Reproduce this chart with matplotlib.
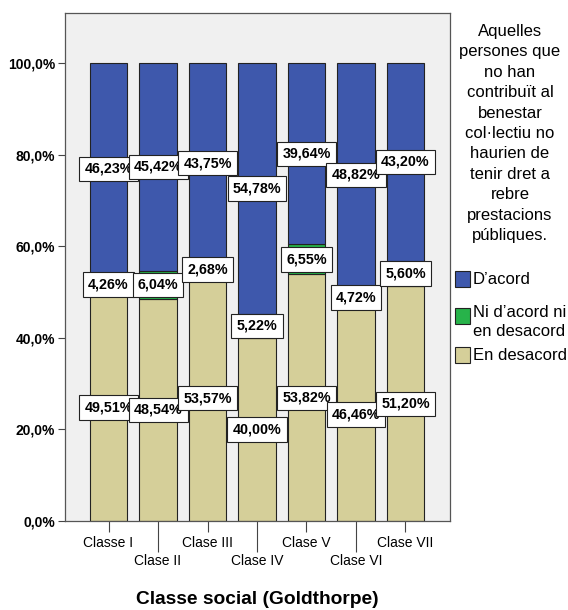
import numpy as np
import matplotlib.pyplot as plt
from matplotlib.patches import Rectangle

classes = ["Classe I", "Clase II", "Clase III", "Clase IV", "Clase V", "Clase VI", "Clase VII"]
en_desacord = [49.51, 48.54, 53.57, 40.00, 53.82, 46.46, 51.20]
ni_acord = [4.26, 6.04, 2.68, 5.22, 6.55, 4.72, 5.60]
d_acord = [46.23, 45.42, 43.75, 54.78, 39.64, 48.82, 43.20]
y_ticks = [0, 20, 40, 60, 80, 100]
legend_names = ["D\u2019acord", "Ni d\u2019acord ni\nen desacord", "En desacord"]
legend_title = ("Aquelles\npersones que\nno han\ncontribu\u00eft al\nbenestar\ncol\u00b7lectiu no\n"
                "haurien de\ntenir dret a\nrebre\nprestacions\np\u00fabliques.")

col_blue = "#3E58AC"
col_green = "#27B34A"
col_tan = "#D5CF99"
edge = "#222222"

plt.rcParams['font.family'] = ['Liberation Sans', 'DejaVu Sans']

W, H = 568, 610
fig = plt.figure(figsize=(W / 100, H / 100), dpi=100)
ax = fig.add_axes([65 / W, 1 - 521 / H, 385 / W, 508 / H])
ax.set_facecolor("#F0F0F0")

x = np.arange(len(classes))
w = 0.75
bottom = np.zeros(len(classes))
series = [(en_desacord, col_tan), (ni_acord, col_green), (d_acord, col_blue)]
for vals, col in series:
    vals = np.array(vals)
    ax.bar(x, vals, w, bottom=bottom, color=col, edgecolor=edge, linewidth=0.8)
    for xi, b, v in zip(x, bottom, vals):
        ax.text(xi, b + v / 2, f"{v:.2f}%".replace(".", ","), ha="center", va="center",
                fontsize=10.3, fontweight="bold",
                bbox=dict(boxstyle="square,pad=0.36", fc="white", ec=edge, lw=0.8))
    bottom = bottom + vals

ax.set_xlim(-0.88, 6.9)
ax.set_ylim(0, 110.9)
ax.set_yticks(y_ticks)
ax.set_yticklabels([f"{t:.1f}%".replace(".", ",") for t in y_ticks], fontsize=10, fontweight="bold")
ax.tick_params(axis="y", length=5, width=0.8, pad=2, color="#444444")

# staggered category labels: majors short, minors long
ax.set_xticks(x[::2])
ax.set_xticklabels(classes[::2], fontsize=10)
ax.set_xticks(x[1::2], minor=True)
ax.set_xticklabels(classes[1::2], minor=True, fontsize=10)
ax.tick_params(axis="x", which="major", length=8, width=0.8, pad=3, color="#444444")
ax.tick_params(axis="x", which="minor", length=22, width=0.8, pad=2, color="#444444")

for s in ax.spines.values():
    s.set_color("#555555")
    s.set_linewidth(0.9)

ax.set_xlabel("Classe social (Goldthorpe)", fontsize=13.8, fontweight="bold", labelpad=16)

# legend drawn by hand to follow the SPSS layout
fig.text(510 / W, 1 - 24 / H, legend_title, ha="center", va="top", fontsize=12, linespacing=1.45)
entry_y = [279, 316, 355]
text_y = [279, 322, 355]
for name, col, hy, ty in zip(legend_names, [col_blue, col_green, col_tan], entry_y, text_y):
    fig.add_artist(Rectangle((455 / W, 1 - (hy + 8) / H), 15 / W, 16 / H, transform=fig.transFigure,
                             facecolor=col, edgecolor=edge, linewidth=0.8))
    fig.text(473 / W, 1 - ty / H, name, ha="left", va="center", fontsize=12, linespacing=1.3)

fig.savefig("out.png", dpi=100)
